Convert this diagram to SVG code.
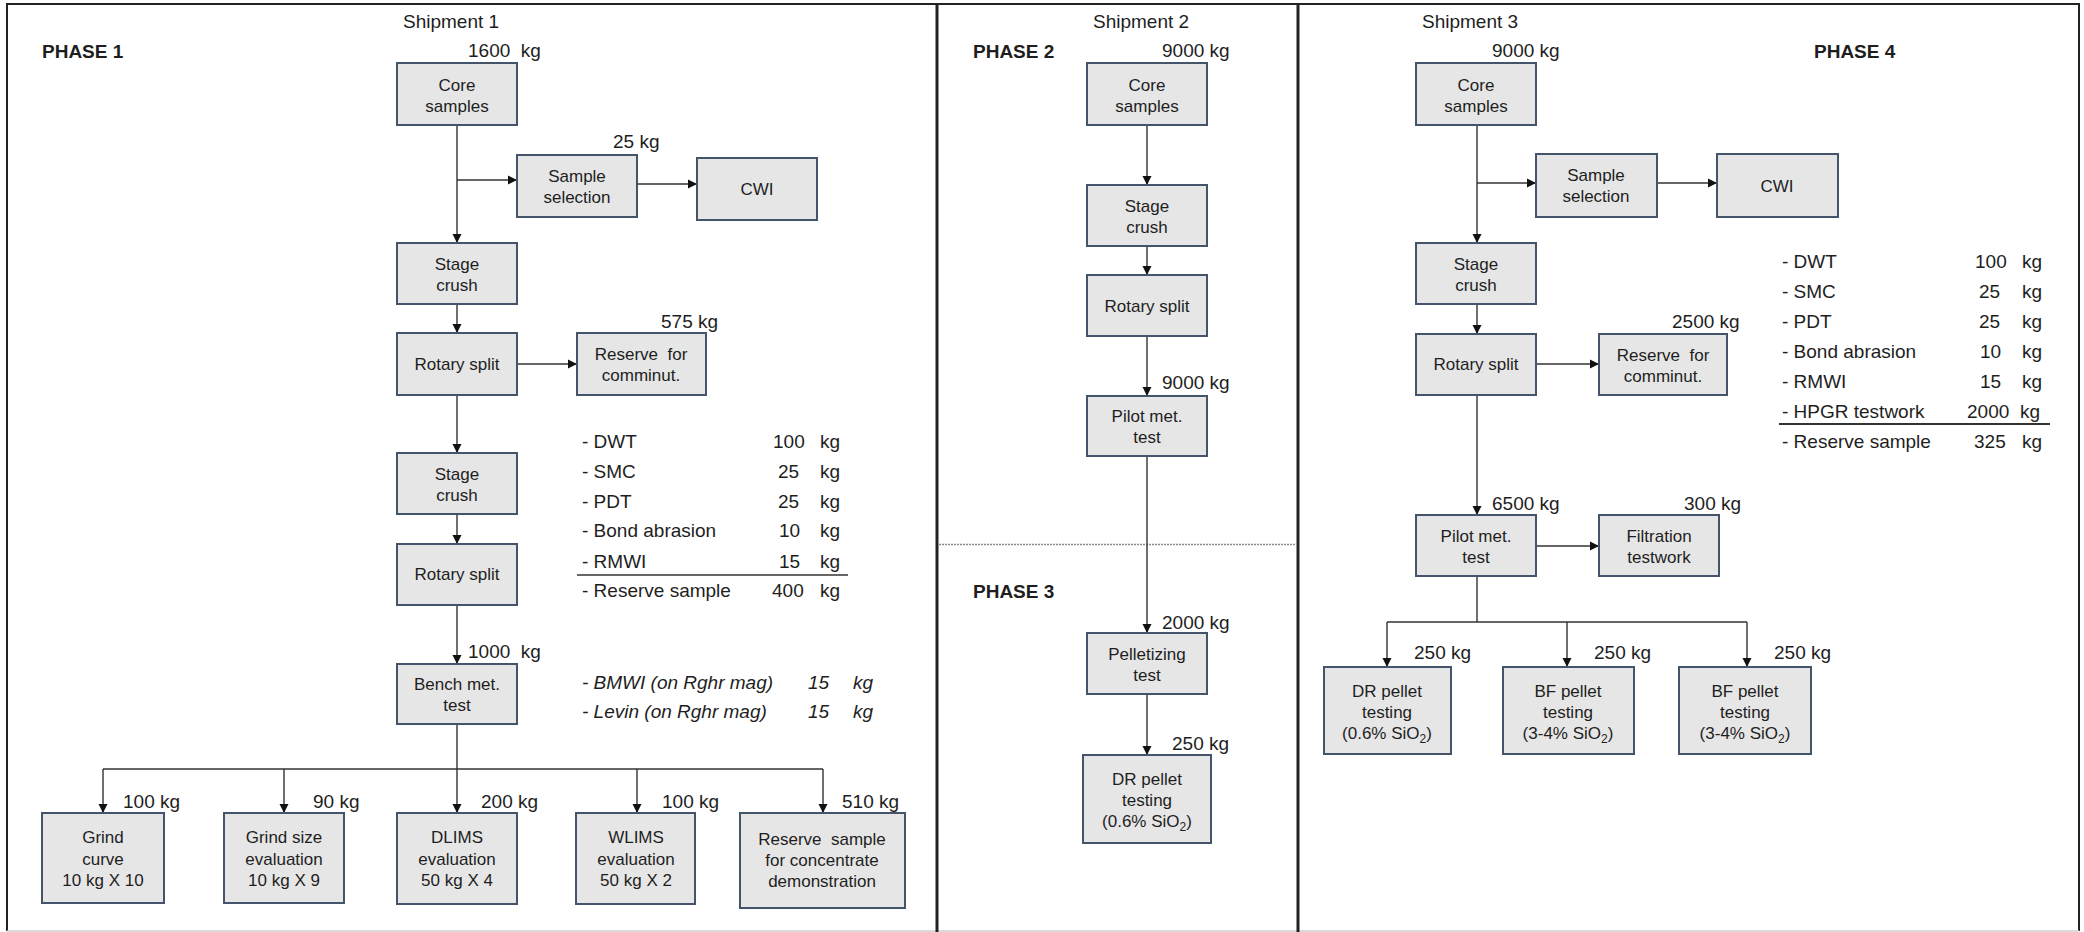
<svg xmlns="http://www.w3.org/2000/svg" width="2084" height="932" viewBox="0 0 2084 932">
<style>
text{font-family:"Liberation Sans",Arial,sans-serif;fill:#1e1e1e;white-space:pre}
.bx{fill:#e6e6e6;stroke:#44546a;stroke-width:2}
.bt{font-size:17px;text-anchor:middle}
.lb{font-size:19px}
.ph{font-size:19px;font-weight:bold}
.sh{font-size:19px}
.it{font-size:19px;font-style:italic}
.cn line,.cn path{stroke:#333;stroke-width:1.4;fill:none}
.ar{marker-end:url(#ah)}
.sub{font-size:12px}
</style>
<defs>
<marker id="ah" viewBox="0 0 10 10" refX="10" refY="5" markerWidth="9" markerHeight="10" markerUnits="userSpaceOnUse" orient="auto">
<path d="M0,0 L10,5 L0,10 Z" fill="#111"/>
</marker>
</defs>
<rect width="2084" height="932" fill="#fff"/>
<g id="frame">
<path d="M7,931 V4 H2079 V931" fill="none" stroke="#222" stroke-width="2"/>
<line x1="7" y1="931" x2="2079" y2="931" stroke="#cfcfcf" stroke-width="1.5"/>
<line x1="937" y1="4" x2="937" y2="932" stroke="#222" stroke-width="3"/>
<line x1="1298" y1="4" x2="1298" y2="932" stroke="#222" stroke-width="3"/>
<line x1="939" y1="544.5" x2="1297" y2="544.5" stroke="#8a8a8a" stroke-width="1.5" stroke-dasharray="2,1"/>
</g>
<g id="headings">
<text class="sh" x="403" y="28">Shipment 1</text>
<text class="ph" x="42" y="58">PHASE 1</text>
<text class="sh" x="1093" y="28">Shipment 2</text>
<text class="ph" x="973" y="58">PHASE 2</text>
<text class="ph" x="973" y="598">PHASE 3</text>
<text class="sh" x="1422" y="28">Shipment 3</text>
<text class="ph" x="1814" y="58">PHASE 4</text>
</g>
<g id="connectors" class="cn">
<line class="ar" x1="457" y1="125" x2="457" y2="243"/>
<line class="ar" x1="457" y1="180" x2="517" y2="180"/>
<line class="ar" x1="637" y1="184" x2="697" y2="184"/>
<line class="ar" x1="457" y1="304" x2="457" y2="333"/>
<line class="ar" x1="517" y1="364" x2="577" y2="364"/>
<line class="ar" x1="457" y1="395" x2="457" y2="453"/>
<line class="ar" x1="457" y1="514" x2="457" y2="544"/>
<line class="ar" x1="457" y1="605" x2="457" y2="664"/>
<line class="ar" x1="457" y1="724" x2="457" y2="813"/>
<line x1="103" y1="769" x2="823" y2="769"/>
<line class="ar" x1="103" y1="769" x2="103" y2="813"/>
<line class="ar" x1="284" y1="769" x2="284" y2="813"/>
<line class="ar" x1="637" y1="769" x2="637" y2="813"/>
<line class="ar" x1="823" y1="769" x2="823" y2="813"/>
<line class="ar" x1="1147" y1="125" x2="1147" y2="185"/>
<line class="ar" x1="1147" y1="246" x2="1147" y2="275"/>
<line class="ar" x1="1147" y1="336" x2="1147" y2="396"/>
<line class="ar" x1="1147" y1="456" x2="1147" y2="633"/>
<line class="ar" x1="1147" y1="694" x2="1147" y2="755"/>
<line class="ar" x1="1477" y1="125" x2="1477" y2="243"/>
<line class="ar" x1="1477" y1="183" x2="1536" y2="183"/>
<line class="ar" x1="1657" y1="183" x2="1717" y2="183"/>
<line class="ar" x1="1477" y1="304" x2="1477" y2="334"/>
<line class="ar" x1="1536" y1="364" x2="1599" y2="364"/>
<line class="ar" x1="1477" y1="395" x2="1477" y2="515"/>
<line class="ar" x1="1536" y1="546" x2="1599" y2="546"/>
<line x1="1477" y1="576" x2="1477" y2="622"/>
<line x1="1387" y1="622" x2="1747" y2="622"/>
<line class="ar" x1="1387" y1="622" x2="1387" y2="667"/>
<line class="ar" x1="1567" y1="622" x2="1567" y2="667"/>
<line class="ar" x1="1747" y1="622" x2="1747" y2="667"/>
</g>
<g id="p1-core"><rect class="bx" x="397" y="63" width="120" height="62"/><text class="bt" x="457" y="91">Core</text><text class="bt" x="457" y="112">samples</text><text class="lb" x="468" y="57">1600  kg</text></g>
<g id="p1-sample"><rect class="bx" x="517" y="155" width="120" height="62"/><text class="bt" x="577" y="182">Sample</text><text class="bt" x="577" y="203">selection</text><text class="lb" x="613" y="148">25 kg</text></g>
<g id="p1-cwi"><rect class="bx" x="697" y="158" width="120" height="62"/><text class="bt" x="757" y="195">CWI</text></g>
<g id="p1-crush1"><rect class="bx" x="397" y="243" width="120" height="61"/><text class="bt" x="457" y="270">Stage</text><text class="bt" x="457" y="291">crush</text></g>
<g id="p1-split1"><rect class="bx" x="397" y="333" width="120" height="62"/><text class="bt" x="457" y="370">Rotary split</text></g>
<g id="p1-reserve"><rect class="bx" x="577" y="333" width="129" height="62"/><text class="bt" x="641" y="360">Reserve  for</text><text class="bt" x="641" y="381">comminut.</text><text class="lb" x="661" y="328">575 kg</text></g>
<g id="p1-crush2"><rect class="bx" x="397" y="453" width="120" height="61"/><text class="bt" x="457" y="480">Stage</text><text class="bt" x="457" y="501">crush</text></g>
<g id="p1-split2"><rect class="bx" x="397" y="544" width="120" height="61"/><text class="bt" x="457" y="580">Rotary split</text></g>
<g id="p1-bench"><rect class="bx" x="397" y="664" width="120" height="60"/><text class="bt" x="457" y="690">Bench met.</text><text class="bt" x="457" y="711">test</text><text class="lb" x="468" y="658">1000  kg</text></g>
<g id="p1-grind"><rect class="bx" x="42" y="813" width="122" height="90"/><text class="bt" x="103" y="843">Grind</text><text class="bt" x="103" y="865">curve</text><text class="bt" x="103" y="886">10 kg X 10</text><text class="lb" x="123" y="808">100 kg</text></g>
<g id="p1-grindsize"><rect class="bx" x="224" y="813" width="120" height="90"/><text class="bt" x="284" y="843">Grind size</text><text class="bt" x="284" y="865">evaluation</text><text class="bt" x="284" y="886">10 kg X 9</text><text class="lb" x="313" y="808">90 kg</text></g>
<g id="p1-dlims"><rect class="bx" x="397" y="813" width="120" height="91"/><text class="bt" x="457" y="843">DLIMS</text><text class="bt" x="457" y="865">evaluation</text><text class="bt" x="457" y="886">50 kg X 4</text><text class="lb" x="481" y="808">200 kg</text></g>
<g id="p1-wlims"><rect class="bx" x="576" y="813" width="119" height="91"/><text class="bt" x="636" y="843">WLIMS</text><text class="bt" x="636" y="865">evaluation</text><text class="bt" x="636" y="886">50 kg X 2</text><text class="lb" x="662" y="808">100 kg</text></g>
<g id="p1-reserve2"><rect class="bx" x="740" y="813" width="165" height="95"/><text class="bt" x="822" y="845">Reserve  sample</text><text class="bt" x="822" y="866">for concentrate</text><text class="bt" x="822" y="887">demonstration</text><text class="lb" x="842" y="808">510 kg</text></g>
<g id="p1-list">
<text class="lb" x="582" y="448">- DWT</text><text class="lb" x="773" y="448">100</text><text class="lb" x="820" y="448">kg</text>
<text class="lb" x="582" y="478">- SMC</text><text class="lb" x="778" y="478">25</text><text class="lb" x="820" y="478">kg</text>
<text class="lb" x="582" y="508">- PDT</text><text class="lb" x="778" y="508">25</text><text class="lb" x="820" y="508">kg</text>
<text class="lb" x="582" y="537">- Bond abrasion</text><text class="lb" x="779" y="537">10</text><text class="lb" x="820" y="537">kg</text>
<text class="lb" x="582" y="568">- RMWI</text><text class="lb" x="779" y="568">15</text><text class="lb" x="820" y="568">kg</text>
<line x1="577" y1="575" x2="848" y2="575" stroke="#333" stroke-width="1.5"/>
<text class="lb" x="582" y="597">- Reserve sample</text><text class="lb" x="772" y="597">400</text><text class="lb" x="820" y="597">kg</text>
<text class="it" x="582" y="689">- BMWI (on Rghr mag)</text><text class="it" x="808" y="689">15</text><text class="it" x="853" y="689">kg</text>
<text class="it" x="582" y="718">- Levin (on Rghr mag)</text><text class="it" x="808" y="718">15</text><text class="it" x="853" y="718">kg</text>
</g>
<g id="p2-core"><rect class="bx" x="1087" y="63" width="120" height="62"/><text class="bt" x="1147" y="91">Core</text><text class="bt" x="1147" y="112">samples</text><text class="lb" x="1162" y="57">9000 kg</text></g>
<g id="p2-crush"><rect class="bx" x="1087" y="185" width="120" height="61"/><text class="bt" x="1147" y="212">Stage</text><text class="bt" x="1147" y="233">crush</text></g>
<g id="p2-split"><rect class="bx" x="1087" y="275" width="120" height="61"/><text class="bt" x="1147" y="312">Rotary split</text></g>
<g id="p2-pilot"><rect class="bx" x="1087" y="396" width="120" height="60"/><text class="bt" x="1147" y="422">Pilot met.</text><text class="bt" x="1147" y="443">test</text><text class="lb" x="1162" y="389">9000 kg</text></g>
<g id="p3-pellet"><rect class="bx" x="1087" y="633" width="120" height="61"/><text class="bt" x="1147" y="660">Pelletizing</text><text class="bt" x="1147" y="681">test</text><text class="lb" x="1162" y="629">2000 kg</text></g>
<g id="p3-dr"><rect class="bx" x="1083" y="755" width="128" height="88"/><text class="bt" x="1147" y="785">DR pellet</text><text class="bt" x="1147" y="806">testing</text><text class="bt" x="1147" y="827">(0.6% SiO<tspan class="sub" dy="4">2</tspan><tspan dy="-4">)</tspan></text><text class="lb" x="1172" y="750">250 kg</text></g>
<g id="p4-core"><rect class="bx" x="1416" y="63" width="120" height="62"/><text class="bt" x="1476" y="91">Core</text><text class="bt" x="1476" y="112">samples</text><text class="lb" x="1492" y="57">9000 kg</text></g>
<g id="p4-sample"><rect class="bx" x="1536" y="154" width="121" height="63"/><text class="bt" x="1596" y="181">Sample</text><text class="bt" x="1596" y="202">selection</text></g>
<g id="p4-cwi"><rect class="bx" x="1717" y="154" width="121" height="63"/><text class="bt" x="1777" y="192">CWI</text></g>
<g id="p4-crush"><rect class="bx" x="1416" y="243" width="120" height="61"/><text class="bt" x="1476" y="270">Stage</text><text class="bt" x="1476" y="291">crush</text></g>
<g id="p4-split"><rect class="bx" x="1416" y="334" width="120" height="61"/><text class="bt" x="1476" y="370">Rotary split</text></g>
<g id="p4-reserve"><rect class="bx" x="1599" y="334" width="128" height="61"/><text class="bt" x="1663" y="361">Reserve  for</text><text class="bt" x="1663" y="382">comminut.</text><text class="lb" x="1672" y="328">2500 kg</text></g>
<g id="p4-pilot"><rect class="bx" x="1416" y="515" width="120" height="61"/><text class="bt" x="1476" y="542">Pilot met.</text><text class="bt" x="1476" y="563">test</text><text class="lb" x="1492" y="510">6500 kg</text></g>
<g id="p4-filt"><rect class="bx" x="1599" y="515" width="120" height="61"/><text class="bt" x="1659" y="542">Filtration</text><text class="bt" x="1659" y="563">testwork</text><text class="lb" x="1684" y="510">300 kg</text></g>
<g id="p4-dr"><rect class="bx" x="1324" y="667" width="127" height="87"/><text class="bt" x="1387" y="697">DR pellet</text><text class="bt" x="1387" y="718">testing</text><text class="bt" x="1387" y="739">(0.6% SiO<tspan class="sub" dy="4">2</tspan><tspan dy="-4">)</tspan></text><text class="lb" x="1414" y="659">250 kg</text></g>
<g id="p4-bf1"><rect class="bx" x="1503" y="667" width="131" height="87"/><text class="bt" x="1568" y="697">BF pellet</text><text class="bt" x="1568" y="718">testing</text><text class="bt" x="1568" y="739">(3-4% SiO<tspan class="sub" dy="4">2</tspan><tspan dy="-4">)</tspan></text><text class="lb" x="1594" y="659">250 kg</text></g>
<g id="p4-bf2"><rect class="bx" x="1679" y="667" width="132" height="87"/><text class="bt" x="1745" y="697">BF pellet</text><text class="bt" x="1745" y="718">testing</text><text class="bt" x="1745" y="739">(3-4% SiO<tspan class="sub" dy="4">2</tspan><tspan dy="-4">)</tspan></text><text class="lb" x="1774" y="659">250 kg</text></g>
<g id="p4-list">
<text class="lb" x="1782" y="268">- DWT</text><text class="lb" x="1975" y="268">100</text><text class="lb" x="2022" y="268">kg</text>
<text class="lb" x="1782" y="298">- SMC</text><text class="lb" x="1979" y="298">25</text><text class="lb" x="2022" y="298">kg</text>
<text class="lb" x="1782" y="328">- PDT</text><text class="lb" x="1979" y="328">25</text><text class="lb" x="2022" y="328">kg</text>
<text class="lb" x="1782" y="358">- Bond abrasion</text><text class="lb" x="1980" y="358">10</text><text class="lb" x="2022" y="358">kg</text>
<text class="lb" x="1782" y="388">- RMWI</text><text class="lb" x="1980" y="388">15</text><text class="lb" x="2022" y="388">kg</text>
<text class="lb" x="1782" y="418">- HPGR testwork</text><text class="lb" x="1967" y="418">2000</text><text class="lb" x="2020" y="418">kg</text>
<line x1="1779" y1="424" x2="2050" y2="424" stroke="#333" stroke-width="2"/>
<text class="lb" x="1782" y="448">- Reserve sample</text><text class="lb" x="1974" y="448">325</text><text class="lb" x="2022" y="448">kg</text>
</g>
</svg>
